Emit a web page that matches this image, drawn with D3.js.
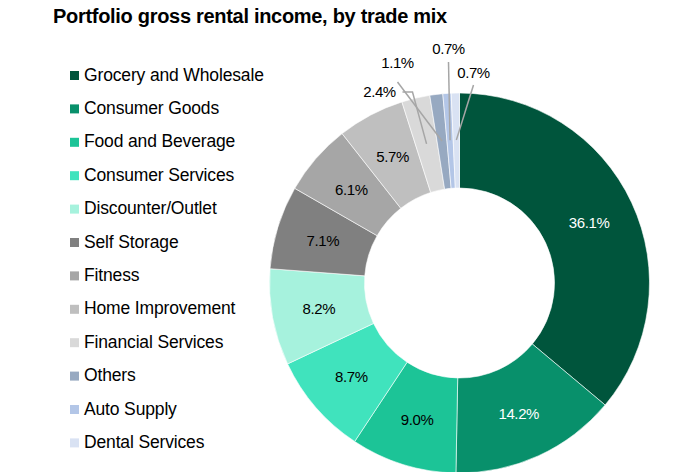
<!DOCTYPE html>
<html>
<head>
<meta charset="utf-8">
<script src="https://cdn.jsdelivr.net/npm/d3@7"></script>
<style>
  body { margin: 0; background: #fff; }
  svg { font-family: "Liberation Sans", Arial, sans-serif; }
</style>
</head>
<body>
<div id="chart"></div>
<script>
const categories = ['Grocery and Wholesale', 'Consumer Goods', 'Food and Beverage', 'Consumer Services',
  'Discounter/Outlet', 'Self Storage', 'Fitness', 'Home Improvement', 'Financial Services',
  'Others', 'Auto Supply', 'Dental Services'];
const values = [36.1, 14.2, 9.0, 8.7, 8.2, 7.1, 6.1, 5.7, 2.4, 1.1, 0.7, 0.7];
const colors = ['#00553c', '#08906b', '#1cc497', '#40e3bd', '#a6f2dd', '#808080',
  '#a6a6a6', '#bfbfbf', '#d9d9d9', '#97a9c1', '#b3c6e7', '#d9e2f3'];
const whiteText = ['Grocery and Wholesale', 'Consumer Goods'];

// callouts for the thin slices: label offset from the pie centre, elbow points
const callouts = {
  'Financial Services': { tx: -80, ty: -191, elbow: [[-57, -191], [-47, -191]] },
  'Others': { tx: -62, ty: -220, elbow: [[-62, -201]] },
  'Auto Supply': { tx: -11, ty: -234, elbow: [[-11, -221]] },
  'Dental Services': { tx: 14, ty: -210, elbow: [[14, -198]] }
};

const width = 681, height = 472;
const cx = 459.5, cy = 283, outer = 190, inner = 95, labelR = 143;

const svg = d3.select('#chart').append('svg')
  .attr('width', width)
  .attr('height', height);

svg.append('text')
  .attr('x', 53)
  .attr('y', 23)
  .attr('font-size', 20)
  .attr('font-weight', 'bold')
  .attr('letter-spacing', -0.3)
  .text('Portfolio gross rental income, by trade mix');

const data = categories.map((c, i) => ({ name: c, value: values[i], color: colors[i] }));

const pie = d3.pie().sort(null).value(d => d.value);
const arc = d3.arc().innerRadius(inner).outerRadius(outer);
const labelArc = d3.arc().innerRadius(labelR).outerRadius(labelR);

const g = svg.append('g').attr('transform', `translate(${cx}, ${cy})`);

const slices = g.selectAll('.arc')
  .data(pie(data))
  .enter().append('g')
  .attr('class', 'arc');

slices.append('path')
  .attr('d', arc)
  .attr('fill', d => d.data.color)
  .attr('stroke', '#fff')
  .attr('stroke-width', 0.6);

// inside labels
slices.filter(d => !callouts[d.data.name])
  .append('text')
  .attr('transform', d => `translate(${labelArc.centroid(d)})`)
  .attr('text-anchor', 'middle')
  .attr('dy', '0.36em')
  .attr('font-size', 15)
  .attr('letter-spacing', -0.4)
  .attr('fill', d => whiteText.includes(d.data.name) ? '#fff' : '#000')
  .text(d => d.data.value.toFixed(1) + '%');

// callout labels
const outside = slices.filter(d => callouts[d.data.name]);

outside.append('polyline')
  .attr('points', d => {
    const c = callouts[d.data.name];
    return [labelArc.centroid(d)].concat(c.elbow.slice().reverse()).join(' ');
  })
  .attr('fill', 'none')
  .attr('stroke', '#a6a6a6')
  .attr('stroke-width', 1.5);

outside.append('text')
  .attr('x', d => callouts[d.data.name].tx)
  .attr('y', d => callouts[d.data.name].ty)
  .attr('text-anchor', 'middle')
  .attr('dy', '0.36em')
  .attr('font-size', 15)
  .attr('letter-spacing', -0.4)
  .attr('fill', '#000')
  .text(d => d.data.value.toFixed(1) + '%');

// legend
const legend = svg.append('g').attr('transform', 'translate(70, 74)');
const row = legend.selectAll('.row')
  .data(data)
  .enter().append('g')
  .attr('class', 'row')
  .attr('transform', (d, i) => `translate(0, ${i * 33.4})`);

row.append('rect')
  .attr('x', 0)
  .attr('y', -3)
  .attr('width', 9)
  .attr('height', 9)
  .attr('fill', d => d.color);

row.append('text')
  .attr('x', 14)
  .attr('y', 6.5)
  .attr('font-size', 17.5)
  .attr('letter-spacing', -0.15)
  .attr('fill', '#000')
  .text(d => d.name);
</script>
</body>
</html>
